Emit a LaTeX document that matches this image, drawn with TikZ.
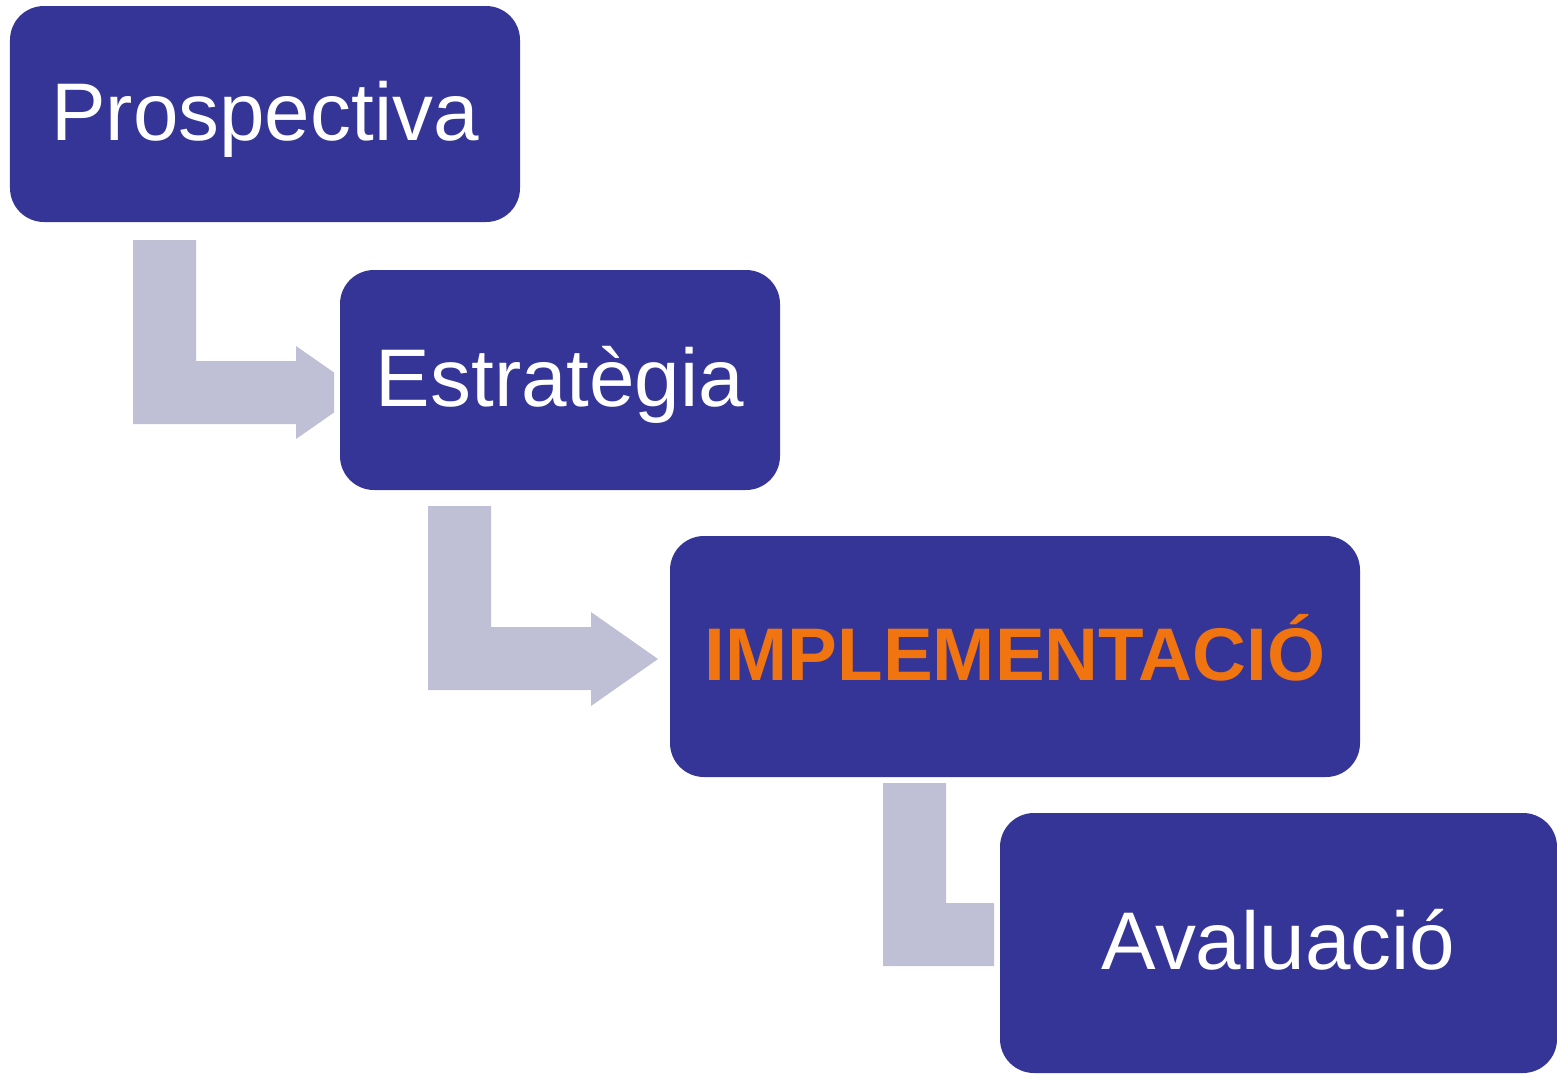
\documentclass[tikz,border=0pt]{standalone}
\usepackage{fontspec}
\setmainfont{Liberation Sans}
\definecolor{boxblue}{HTML}{353598}
\definecolor{arrowgrey}{HTML}{BFBFD6}
\definecolor{implorange}{HTML}{F07410}
\tikzset{
  stepbox/.style={rounded corners=34bp, fill=boxblue, draw=none, inner sep=0pt,
    text=white, font=\fontsize{81.8bp}{90bp}\selectfont, text height=59bp, text depth=7bp},
  boldtext/.style={text=implorange, font=\fontsize{74.6bp}{84bp}\selectfont\bfseries, text height=54bp, text depth=6bp},
  bentarrow/.style={fill=arrowgrey, draw=none}
}
\begin{document}
\begin{tikzpicture}[x=1bp,y=-1bp]
\useasboundingbox (0,0) rectangle (1557,1074);
% bent arrows (drawn first, boxes overlap them)
\fill[bentarrow] (133,240) -- (196,240) -- (196,361) -- (296,361) -- (296,346) -- (334,372.5) -- (334,412.5) -- (296,439) -- (296,424) -- (133,424) -- cycle;
\fill[bentarrow] (428,506) -- (491,506) -- (491,627) -- (591,627) -- (591,612) -- (658,659) -- (591,706) -- (591,690) -- (428,690) -- cycle;
\fill[bentarrow] (883,783) -- (946,783) -- (946,903) -- (994,903) -- (994,966) -- (883,966) -- cycle;
% boxes
\node[stepbox, minimum width=510bp, minimum height=216bp] (pros) at (265,114) {Prospectiva};
\node[stepbox, minimum width=440bp, minimum height=220bp] (estr) at (560,380) {Estratègia};
\node[stepbox, boldtext, minimum width=690bp, minimum height=241bp] (impl) at (1015,656.5) {IMPLEMENTACIÓ};
\node[stepbox, minimum width=557bp, minimum height=260bp] (aval) at (1278.5,943) {Avaluació};
\end{tikzpicture}
\end{document}
